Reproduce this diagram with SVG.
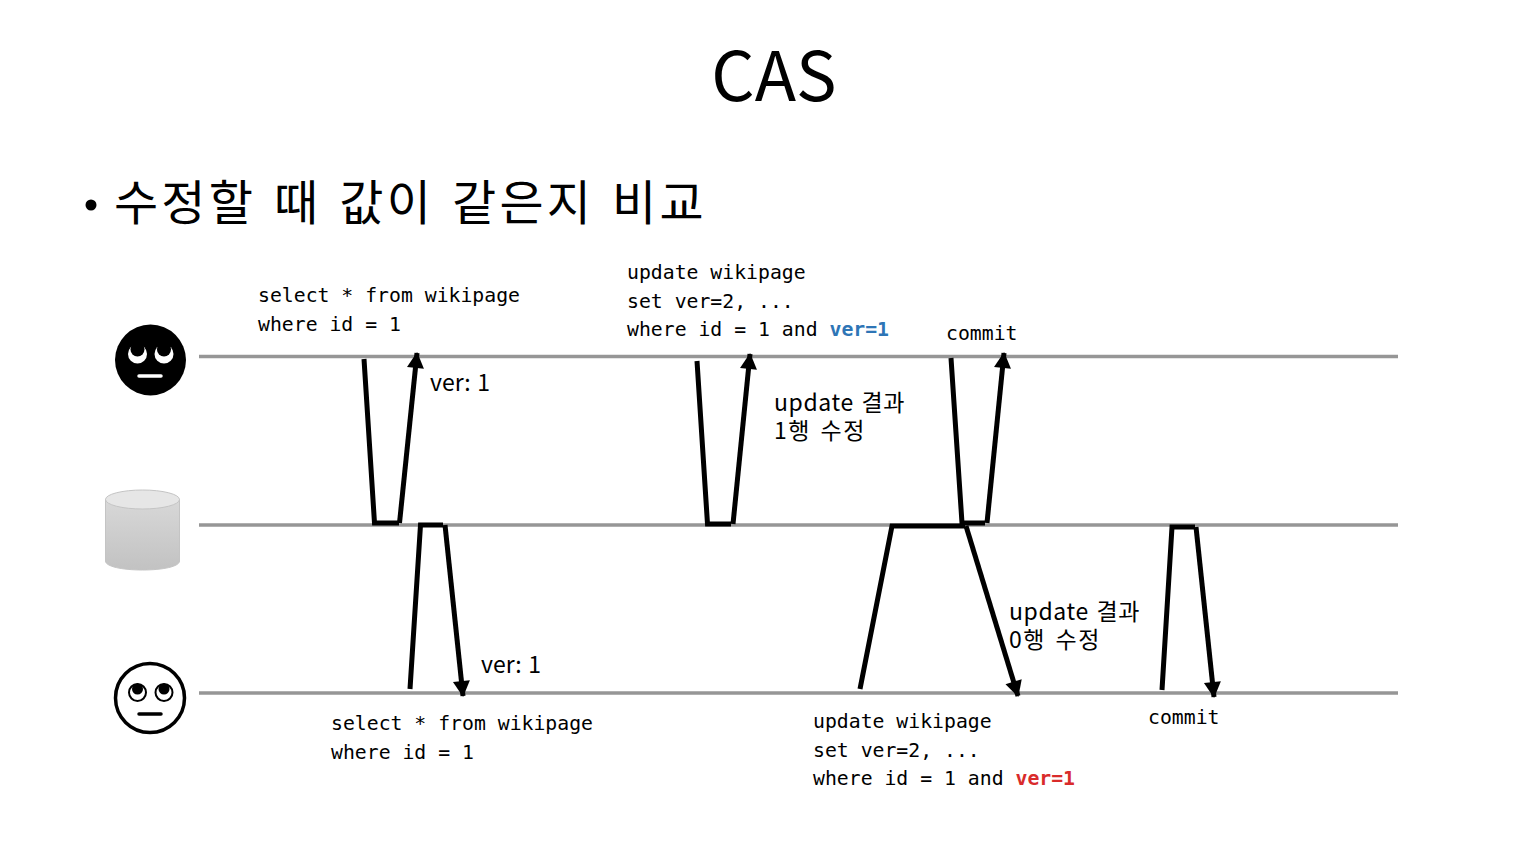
<svg xmlns="http://www.w3.org/2000/svg" width="1528" height="862" viewBox="0 0 1528 862">
<style>
text{fill:#000}
.code{font-family:"DejaVu Sans Mono","Liberation Mono",monospace;font-size:19.8px}
.lab{font-family:"Noto Sans CJK KR","Noto Sans",sans-serif;font-size:23px;letter-spacing:.6px;word-spacing:2px}
.ver{letter-spacing:0;word-spacing:1.500px}
.kr{letter-spacing:1.500px;word-spacing:3px}
.tl{stroke:#969696;stroke-width:3.5;fill:none}
.c{stroke:#000;stroke-width:5;fill:none;stroke-linejoin:miter}
.a{stroke:#000;stroke-width:5;fill:none;marker-end:url(#ah)}
</style>
<defs>
<marker id="ah" markerUnits="userSpaceOnUse" markerWidth="20" markerHeight="20" refX="15" refY="8.500" orient="auto" overflow="visible"><path d="M0 0L16 8.500L0 17Z" fill="#000"/></marker>
<linearGradient id="cyl" x1="0" y1="0" x2="0" y2="1"><stop offset="0" stop-color="#d8d8d8"/><stop offset="1" stop-color="#c2c2c2"/></linearGradient>
</defs>
<text x="774" y="101" text-anchor="middle" font-family="Noto Sans CJK KR,Noto Sans,sans-serif" font-size="68">CAS</text>
<circle cx="91" cy="205" r="5.500" fill="#000"/>
<text x="114" y="220" font-family="Noto Sans CJK KR,Noto Sans,sans-serif" font-size="48" letter-spacing="3.200" word-spacing="4">수정할 때 값이 같은지 비교</text>
<g id="timelines">
<line class="tl" x1="199" y1="356.500" x2="1398" y2="356.500"/>
<line class="tl" x1="199" y1="525" x2="1398" y2="525"/>
<line class="tl" x1="199" y1="693" x2="1398" y2="693"/>
</g>
<g id="user-a">
<circle cx="150.500" cy="360" r="35.500" fill="#000"/>
<circle cx="137.500" cy="354" r="9.500" fill="#fff"/><circle cx="164" cy="354" r="9.500" fill="#fff"/>
<circle cx="137.500" cy="349.500" r="7" fill="#000"/><circle cx="164" cy="349.500" r="7" fill="#000"/>
<line x1="139" y1="376" x2="161" y2="376" stroke="#fff" stroke-width="3.500" stroke-linecap="round"/>
</g>
<g id="database">
<path d="M105.500 499.500V561C105.500 566.500 122 570 142.500 570S179.500 566.500 179.500 561V499.500Z" fill="url(#cyl)" stroke="#c4c4c4"/>
<ellipse cx="142.500" cy="499.500" rx="37" ry="9.500" fill="#e6e6e6" stroke="#c4c4c4"/>
</g>
<g id="user-b">
<circle cx="150" cy="698" r="34.500" fill="#fff" stroke="#000" stroke-width="3.500"/>
<circle cx="137.500" cy="692.500" r="8.500" fill="#fff" stroke="#000" stroke-width="2"/><circle cx="164" cy="692.500" r="8.500" fill="#fff" stroke="#000" stroke-width="2"/>
<circle cx="137.500" cy="689" r="5.500" fill="#000"/><circle cx="164" cy="689" r="5.500" fill="#000"/>
<line x1="139" y1="714" x2="161" y2="714" stroke="#000" stroke-width="3.500" stroke-linecap="round"/>
</g>
<g id="connectors">
<path class="c" d="M364 359L374.500 523H399"/><path class="a" d="M399.500 523L417 353"/>
<path class="c" d="M410 689L420.500 525H443"/><path class="a" d="M445 525L463 696"/>
<path class="c" d="M697 361L707.500 524H731"/><path class="a" d="M733 524L750 354"/>
<path class="c" d="M951 358L962 523H985"/><path class="a" d="M987 523L1004 353"/>
<path class="c" d="M860 689L892 526H965"/><path class="a" d="M966 526L1018 696"/>
<path class="c" d="M1162 690L1172 527H1195"/><path class="a" d="M1196 527L1214 697"/>
</g>
<g id="labels">
<text class="code" x="258" y="302">select * from wikipage</text>
<text class="code" x="258" y="331">where id = 1</text>
<text class="code" x="627" y="279">update wikipage</text>
<text class="code" x="627" y="308">set ver=2, ...</text>
<text class="code" x="627" y="336">where id = 1 and <tspan fill="#2e75b6" font-weight="bold">ver=1</tspan></text>
<text class="code" x="946" y="340">commit</text>
<text class="lab ver" x="430" y="391">ver: 1</text>
<text class="lab" x="774" y="411">update 결과</text>
<text class="lab kr" x="774" y="439">1행 수정</text>
<text class="lab" x="1009" y="620">update 결과</text>
<text class="lab kr" x="1009" y="648">0행 수정</text>
<text class="lab ver" x="481" y="673">ver: 1</text>
<text class="code" x="331" y="730">select * from wikipage</text>
<text class="code" x="331" y="759">where id = 1</text>
<text class="code" x="813" y="728">update wikipage</text>
<text class="code" x="813" y="757">set ver=2, ...</text>
<text class="code" x="813" y="785">where id = 1 and <tspan fill="#d92b2b" font-weight="bold">ver=1</tspan></text>
<text class="code" x="1148" y="724">commit</text>
</g>
</svg>
